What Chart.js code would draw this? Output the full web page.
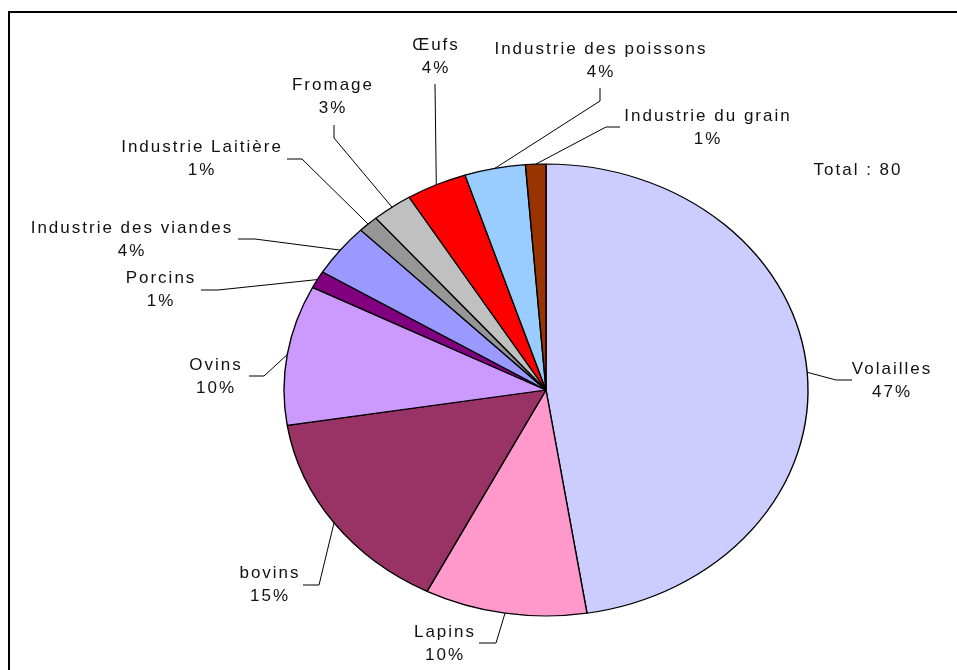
<!DOCTYPE html>
<html>
<head>
<meta charset="utf-8">
<script src="https://cdn.jsdelivr.net/npm/chart.js@4.4.1/dist/chart.umd.min.js"></script>
<style>
  html, body { margin: 0; padding: 0; background: #fff; }
  #wrap { width: 957px; height: 670px; }
</style>
</head>
<body>
<div id="wrap"><canvas id="pie" width="957" height="670"></canvas></div>
<script>
const categories = ['Volailles', 'Lapins', 'bovins', 'Ovins', 'Porcins', 'Industrie des viandes',
  'Industrie Laitière', 'Fromage', 'Œufs', 'Industrie des poissons', 'Industrie du grain'];
const counts = [38, 8, 12, 8, 1, 3, 1, 2, 3, 3, 1];
const sliceColors = ['#CCCCFF', '#FF99CC', '#993366', '#CC99FF', '#800080', '#9999FF',
  '#969696', '#C0C0C0', '#FF0000', '#99CCFF', '#993300'];

// label placement as Excel left it: text centre, leader start, leader elbow
const labelPos = [
  { text: [891, 369], from: [852, 380], elbow: [836, 380] },
  { text: [444, 632], from: [479, 643], elbow: [496, 643] },
  { text: [269, 573], from: [303, 585], elbow: [319, 585] },
  { text: [215, 365], from: [249, 376], elbow: [264, 376] },
  { text: [160, 278], from: [201, 290], elbow: [218, 290] },
  { text: [131, 228], from: [238, 239], elbow: [255, 239] },
  { text: [201, 147], from: [287, 159], elbow: [302, 159] },
  { text: [332, 85],  from: [334, 125], elbow: [334, 138] },
  { text: [435, 45],  from: [435, 84],  elbow: null },
  { text: [600, 49],  from: [600, 88],  elbow: [600, 101] },
  { text: [707, 116], from: [620, 127], elbow: [606, 127] }
];

const stretchX = 262 / 226;   // the Excel pie is an ellipse
const font = '17px "Liberation Sans", Arial, sans-serif';

function percentLabels(values) {
  const total = values.reduce((a, b) => a + b, 0);
  const pct = values.map(v => Math.round(v * 100 / total));
  // Excel keeps the labels summing to 100
  const diff = 100 - pct.reduce((a, b) => a + b, 0);
  const big = values.indexOf(Math.max(...values));
  pct[big] += diff;
  return pct;
}

const ellipse = {
  id: 'ellipse',
  beforeDatasetsDraw(chart) {
    const arc = chart.getDatasetMeta(0).data[0];
    const ctx = chart.ctx;
    ctx.save();
    ctx.translate(arc.x, arc.y);
    ctx.scale(stretchX, 1);
    ctx.translate(-arc.x, -arc.y);
  },
  afterDatasetsDraw(chart) {
    chart.ctx.restore();
  }
};

const labels = {
  id: 'labels',
  afterDraw(chart) {
    const ctx = chart.ctx;
    const arcs = chart.getDatasetMeta(0).data;
    const pct = percentLabels(counts);
    const total = counts.reduce((a, b) => a + b, 0);

    ctx.save();
    // frame
    ctx.strokeStyle = '#000';
    ctx.lineWidth = 2;
    ctx.strokeRect(9, 12, 970, 700);

    // leader lines
    ctx.lineWidth = 1;
    arcs.forEach((arc, i) => {
      const p = labelPos[i];
      const mid = (arc.startAngle + arc.endAngle) / 2;
      const ex = arc.x + Math.cos(mid) * arc.outerRadius * stretchX;
      const ey = arc.y + Math.sin(mid) * arc.outerRadius;
      ctx.beginPath();
      ctx.moveTo(p.from[0], p.from[1]);
      if (p.elbow) ctx.lineTo(p.elbow[0], p.elbow[1]);
      ctx.lineTo(ex, ey);
      ctx.stroke();
    });

    // texts
    ctx.font = font;
    ctx.letterSpacing = '2px';
    ctx.fillStyle = '#111';
    ctx.textAlign = 'center';
    ctx.textBaseline = 'middle';
    categories.forEach((name, i) => {
      const [x, y] = labelPos[i].text;
      ctx.fillText(name, x + 1, y);
      ctx.fillText(pct[i] + '%', x + 1, y + 23);
    });
    ctx.fillText('Total : ' + total, 858, 170);
    ctx.restore();
  }
};

new Chart(document.getElementById('pie'), {
  type: 'pie',
  data: {
    labels: categories,
    datasets: [{
      data: counts,
      backgroundColor: sliceColors,
      borderColor: '#000',
      borderWidth: 1.2
    }]
  },
  options: {
    responsive: false,
    animation: false,
    events: [],
    radius: 226,
    layout: { padding: { left: 135, right: 0, top: 110, bottom: 0 } },
    plugins: {
      legend: { display: false },
      tooltip: { enabled: false }
    }
  },
  plugins: [ellipse, labels]
});
</script>
</body>
</html>
